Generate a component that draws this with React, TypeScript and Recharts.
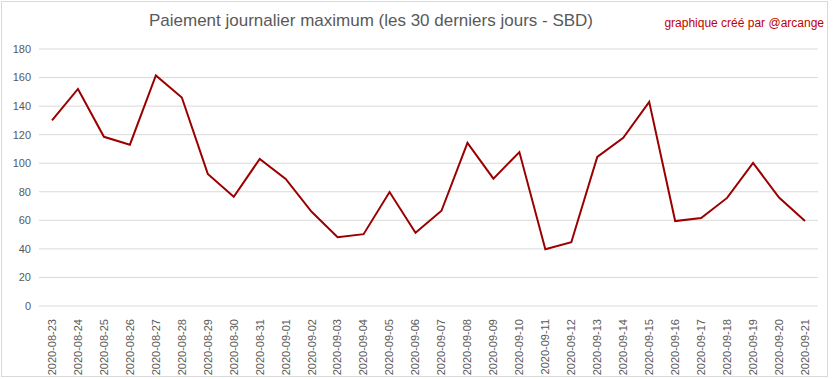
import React from "react";
import { LineChart, Line, XAxis, YAxis, CartesianGrid } from "recharts";

const days = [
  "2020-08-23", "2020-08-24", "2020-08-25", "2020-08-26", "2020-08-27",
  "2020-08-28", "2020-08-29", "2020-08-30", "2020-08-31", "2020-09-01",
  "2020-09-02", "2020-09-03", "2020-09-04", "2020-09-05", "2020-09-06",
  "2020-09-07", "2020-09-08", "2020-09-09", "2020-09-10", "2020-09-11",
  "2020-09-12", "2020-09-13", "2020-09-14", "2020-09-15", "2020-09-16",
  "2020-09-17", "2020-09-18", "2020-09-19", "2020-09-20", "2020-09-21",
];

const maxPayout = [
  130, 152, 118.5, 113, 161.5, 146, 92.5, 76.5, 103, 89,
  66, 48.2, 50.3, 79.8, 51.3, 66.7, 114.3, 89.2, 107.8, 39.8,
  44.7, 104.4, 117.8, 143, 59.5, 61.6, 75.7, 100.2, 76, 59.5,
];

const yTicks = [0, 20, 40, 60, 80, 100, 120, 140, 160, 180];

const data = days.map((d, i) => ({ day: d, value: maxPayout[i] }));

const FONT = "'Liberation Sans', Arial, sans-serif";

function DayTick(props: any) {
  const { x, y, payload } = props;
  return (
    <g transform={`translate(${x},${y})`}>
      <text
        transform="rotate(-90)"
        x={-5}
        y={0}
        dy="0.35em"
        textAnchor="end"
        fill="#595959"
        fontSize={11}
        fontFamily={FONT}
      >
        {payload.value}
      </text>
    </g>
  );
}

export default function App() {
  return (
    <div
      style={{
        position: "fixed",
        left: 0,
        top: 0,
        width: 833,
        height: 379,
        background: "#fff",
      }}
    >
      <div
        style={{
          position: "absolute",
          left: 1,
          top: 1,
          width: 827,
          height: 376,
          border: "1px solid #d9d9d9",
          boxSizing: "border-box",
        }}
      />
      <div
        style={{
          position: "absolute",
          left: 0,
          width: 742,
          top: 11,
          textAlign: "center",
          fontFamily: FONT,
          fontSize: 17,
          color: "#595959",
        }}
      >
        Paiement journalier maximum (les 30 derniers jours - SBD)
      </div>
      <div
        style={{
          position: "absolute",
          right: 9,
          top: 16,
          fontFamily: FONT,
          fontSize: 12,
          color: "#c00000",
        }}
      >
        graphique créé par @arcange
      </div>
      <LineChart
        width={833}
        height={379}
        data={data}
        margin={{ top: 49, right: 15, bottom: 7, left: 0 }}
      >
        <CartesianGrid vertical={false} stroke="#d9d9d9" />
        <XAxis
          dataKey="day"
          interval={0}
          height={66}
          padding={{ left: 13, right: 13 }}
          axisLine={false}
          tickLine={false}
          tick={<DayTick />}
        />
        <YAxis
          domain={[0, 180]}
          ticks={yTicks}
          width={39}
          axisLine={false}
          tickLine={false}
          tick={{ fontSize: 11, fill: "#595959", fontFamily: FONT }}
        />
        <Line
          type="linear"
          dataKey="value"
          stroke="#9b0000"
          strokeWidth={2}
          dot={false}
          isAnimationActive={false}
        />
      </LineChart>
    </div>
  );
}
